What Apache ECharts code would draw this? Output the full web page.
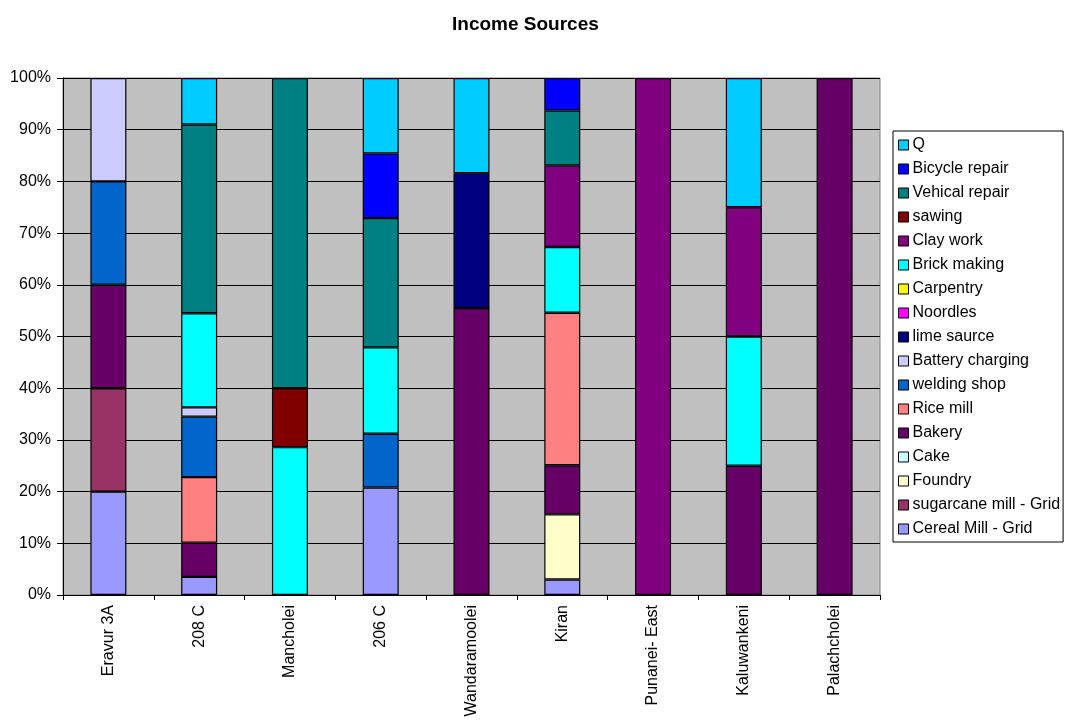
<!DOCTYPE html>
<html>
<head>
<meta charset="utf-8">
<title>Income Sources</title>
<script src="https://cdn.jsdelivr.net/npm/echarts@6/dist/echarts.min.js"></script>
<style>
  html, body { margin: 0; padding: 0; background: #ffffff; }
  #chart { width: 1065px; height: 720px; }
</style>
</head>
<body>
<div id="chart"></div>
<script>
// Villages (x-axis categories)
const villages = ['Eravur 3A', '208 C', 'Mancholei', '206 C', 'Wandaramoolei', 'Kiran', 'Punanei- East', 'Kaluwankeni', 'Palachcholei'];

// Share of income (%) per source, stacked bottom to top in this order
const cerealMill      = [20, 3.5, 0, 20.8, 0, 3.0, 0, 0, 0];
const sugarcaneMill   = [20, 0, 0, 0, 0, 0, 0, 0, 0];
const foundry         = [0, 0, 0, 0, 0, 12.6, 0, 0, 0];
const cake            = [0, 0, 0, 0, 0, 0, 0, 0, 0];
const bakery          = [20, 6.6, 0, 0, 55.5, 9.5, 0, 25, 100];
const riceMill        = [0, 12.7, 0, 0, 0, 29.5, 0, 0, 0];
const weldingShop     = [20, 11.7, 0, 10.4, 0, 0, 0, 0, 0];
const batteryCharging = [20, 1.8, 0, 0, 0, 0, 0, 0, 0];
const limeSaurce      = [0, 0, 0, 0, 26.1, 0, 0, 0, 0];
const noordles        = [0, 0, 0, 0, 0, 0, 0, 0, 0];
const carpentry       = [0, 0, 0, 0, 0, 0, 0, 0, 0];
const brickMaking     = [0, 18.2, 28.6, 16.7, 0, 12.7, 0, 25, 0];
const clayWork        = [0, 0, 0, 0, 0, 15.8, 100, 25, 0];
const sawing          = [0, 0, 11.4, 0, 0, 0, 0, 0, 0];
const vehicalRepair   = [0, 36.5, 60, 25.0, 0, 10.6, 0, 0, 0];
const bicycleRepair   = [0, 0, 0, 12.5, 0, 6.3, 0, 0, 0];
const q               = [0, 9.0, 0, 14.6, 18.4, 0, 0, 25, 0];

// Y-axis tick values (%)
const yTicks = [0, 10, 20, 30, 40, 50, 60, 70, 80, 90, 100];

const sources = [
  { name: 'Cereal Mill - Grid',    data: cerealMill,      color: '#9999FF' },
  { name: 'sugarcane mill - Grid', data: sugarcaneMill,   color: '#993366' },
  { name: 'Foundry',               data: foundry,         color: '#FFFFCC' },
  { name: 'Cake',                  data: cake,            color: '#CCFFFF' },
  { name: 'Bakery',                data: bakery,          color: '#660066' },
  { name: 'Rice mill',             data: riceMill,        color: '#FF8080' },
  { name: 'welding shop',          data: weldingShop,     color: '#0066CC' },
  { name: 'Battery charging',      data: batteryCharging, color: '#CCCCFF' },
  { name: 'lime saurce',           data: limeSaurce,      color: '#000080' },
  { name: 'Noordles',              data: noordles,        color: '#FF00FF' },
  { name: 'Carpentry',             data: carpentry,       color: '#FFFF00' },
  { name: 'Brick making',          data: brickMaking,     color: '#00FFFF' },
  { name: 'Clay work',             data: clayWork,        color: '#800080' },
  { name: 'sawing',                data: sawing,          color: '#800000' },
  { name: 'Vehical repair',        data: vehicalRepair,   color: '#008080' },
  { name: 'Bicycle repair',        data: bicycleRepair,   color: '#0000FF' },
  { name: 'Q',                     data: q,               color: '#00CCFF' }
];

const FONT = '"Liberation Sans", Arial, sans-serif';

const chart = echarts.init(document.getElementById('chart'), null, { renderer: 'canvas' });

chart.setOption({
  animation: false,
  backgroundColor: '#ffffff',
  title: {
    text: 'Income Sources',
    left: 447,
    top: 10,
    textStyle: { fontFamily: FONT, fontSize: 19, fontWeight: 'bold', color: '#000000' }
  },
  legend: {
    orient: 'vertical',
    left: 893,
    top: 131,
    padding: [6, 3, 5, 5],
    itemWidth: 10,
    itemHeight: 10,
    itemGap: 8,
    icon: 'rect',
    backgroundColor: '#ffffff',
    borderColor: '#000000',
    borderWidth: 1,
    borderRadius: 0,
    data: sources.map(s => s.name).reverse(),
    textStyle: { fontFamily: FONT, fontSize: 16, lineHeight: 16, color: '#000000', padding: [0, 0, 0, -1] },
    itemStyle: { borderColor: '#000000', borderWidth: 1 }
  },
  grid: {
    left: 63,
    top: 78,
    width: 817,
    height: 517,
    show: true,
    backgroundColor: '#C0C0C0',
    borderColor: '#808080',
    borderWidth: 1,
    containLabel: false
  },
  xAxis: {
    type: 'category',
    data: villages,
    boundaryGap: true,
    axisLine: { show: true, lineStyle: { color: '#000000', width: 1 } },
    axisTick: { show: true, length: 5, inside: false, lineStyle: { color: '#000000' } },
    axisLabel: {
      rotate: 90,
      margin: 10,
      interval: 0,
      fontFamily: FONT,
      fontSize: 16,
      color: '#000000'
    },
    splitLine: { show: false }
  },
  yAxis: {
    type: 'value',
    min: yTicks[0],
    max: yTicks[yTicks.length - 1],
    interval: yTicks[1] - yTicks[0],
    axisLine: { show: true, lineStyle: { color: '#000000', width: 1 } },
    axisTick: { show: true, length: 6, inside: false, lineStyle: { color: '#000000' } },
    axisLabel: {
      margin: 12,
      fontFamily: FONT,
      fontSize: 16,
      color: '#000000',
      formatter: '{value}%'
    },
    splitLine: { show: true, lineStyle: { color: '#000000', width: 1 } }
  },
  series: sources.map(s => ({
    name: s.name,
    type: 'bar',
    stack: 'income',
    barWidth: 36,
    data: s.data.map(v => (v === 0 ? '-' : v)),
    itemStyle: { color: s.color, borderColor: '#000000', borderWidth: 1.2 },
    emphasis: { disabled: true }
  }))
});
</script>
</body>
</html>
